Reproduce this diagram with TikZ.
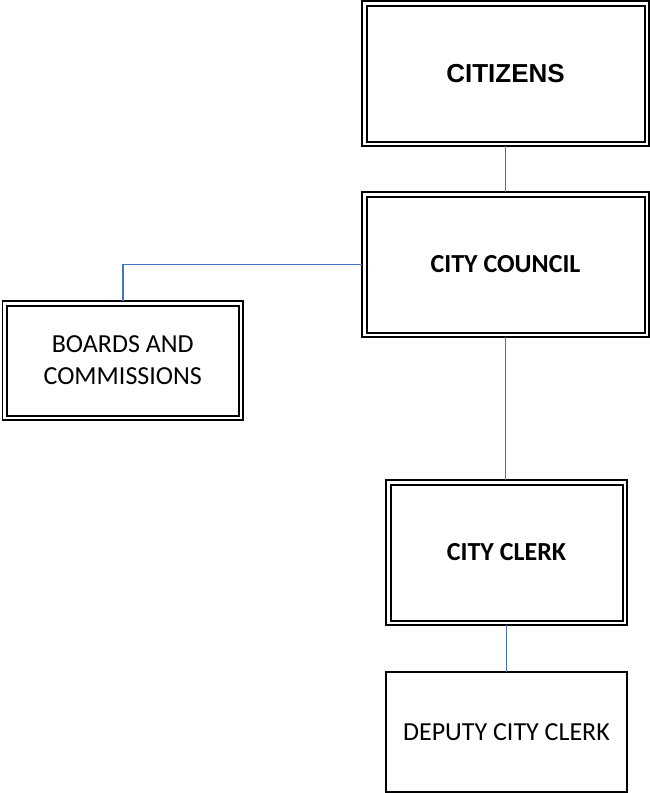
\documentclass[tikz,border=0pt]{standalone}
\usepackage{fontspec}
\setmainfont{Carlito}
\newfontfamily\arialfont{Liberation Sans}
\begin{document}
\begin{tikzpicture}[x=1pt,y=-1pt,
  box/.style={draw=black, line width=1.1pt, rectangle, inner sep=0pt, outer sep=0pt, fill=white},
  frame/.style={draw=black, line width=2pt},
  link/.style={draw={rgb,255:red,68;green,114;blue,196}, line width=1.8pt},
  lbl/.style={font=\fontsize{26}{32}\selectfont, align=center, inner sep=0pt}
]
\useasboundingbox[fill=white] (0,0) rectangle (650,793);

% boxes of the chart
\node[box, minimum width=287pt, minimum height=145pt, lbl, font=\arialfont\bfseries\fontsize{26}{32}\selectfont] (cit) at (505.5,73.5) {CITIZENS};
\node[box, minimum width=287pt, minimum height=145pt, lbl, font=\bfseries\fontsize{26}{32}\selectfont] (cou) at (505.5,264.5) {CITY COUNCIL};
\node[box, minimum width=240.5pt, minimum height=119pt, lbl] (brd) at (122.75,360.5) {BOARDS AND\\COMMISSIONS};
\node[box, minimum width=241pt, minimum height=145pt, lbl, font=\bfseries\fontsize{26}{32}\selectfont] (clk) at (506.5,552.5) {CITY CLERK};
\node[box, minimum width=241pt, minimum height=120pt, lbl] (dep) at (506.5,732) {DEPUTY CITY CLERK};

% inner lines of the double frames
\foreach \n in {cit,cou,brd,clk}
  \draw[frame] ([shift={(4.5pt,-4.5pt)}]\n.north west) rectangle ([shift={(-4.5pt,4.5pt)}]\n.south east);

% connectors
\draw[link] (cit.south) -- (cou.north);
\draw[link] (cou.west) -| (brd.north);
\draw[link] (cou.south) -- (cou.south |- clk.north);
\draw[link] (clk.south) -- (dep.north);
\end{tikzpicture}
\end{document}
